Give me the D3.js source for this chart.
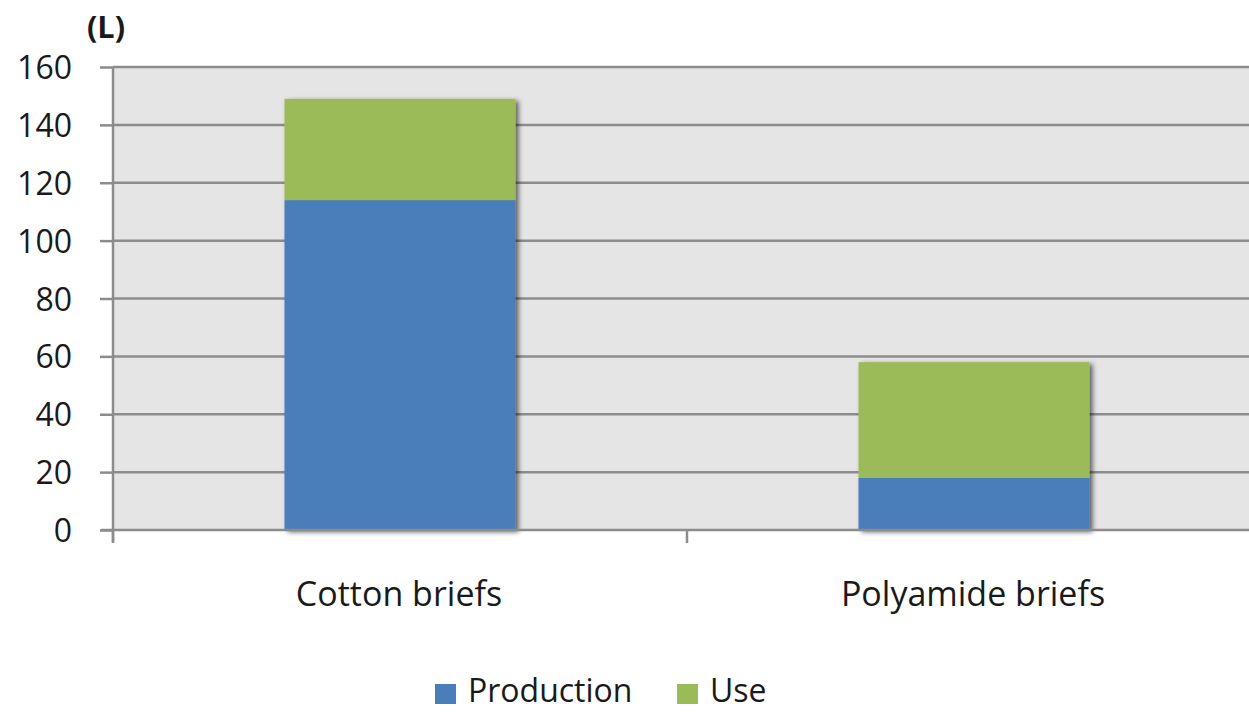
<!DOCTYPE html>
<html>
<head>
<meta charset="utf-8">
<script src="https://cdn.jsdelivr.net/npm/d3@7"></script>
<style>
  html, body { margin: 0; padding: 0; background: #ffffff; }
  svg { display: block; }
  text { font-family: "Open Sans", "Liberation Sans", sans-serif; fill: #1a1a1a; }
</style>
</head>
<body>
<svg id="chart" width="1249" height="712"></svg>
<script>
const categories = ["Cotton briefs", "Polyamide briefs"];
const seriesNames = ["Production", "Use"];
const production = [114, 18];
const use = [35, 40];
const yTicks = [0, 20, 40, 60, 80, 100, 120, 140, 160];
const colors = ["#4a7ebb", "#9bbb59"];
const unitLabel = "(L)";

const svg = d3.select("#chart");

const x = d3.scaleBand().domain(categories).range([113, 1261]).paddingInner(0).paddingOuter(0);
const y = d3.scaleLinear().domain([0, 160]).range([530, 67]);

const defs = svg.append("defs");
const f = defs.append("filter").attr("id", "shadow").attr("x", "-10%").attr("y", "-10%").attr("width", "130%").attr("height", "130%");
f.append("feDropShadow").attr("dx", 3).attr("dy", 2).attr("stdDeviation", 2.5).attr("flood-color", "#000").attr("flood-opacity", 0.6);

// plot background
svg.append("rect").attr("x", 113).attr("y", y(160)).attr("width", 1261 - 113).attr("height", y(0) - y(160)).attr("fill", "#e5e5e5");

// gridlines
svg.append("g").selectAll("line").data(yTicks.filter(d => d > 0)).join("line")
  .attr("x1", 113).attr("x2", 1261)
  .attr("y1", d => y(d)).attr("y2", d => y(d))
  .attr("stroke", "#8c8c8c").attr("stroke-width", 2.5);

// stacked bars
const stackData = categories.map((c, i) => ({ cat: c, Production: production[i], Use: use[i] }));
const stacked = d3.stack().keys(seriesNames)(stackData);
const barW = 231;
const bars = svg.append("g").attr("filter", "url(#shadow)");
stacked.forEach((layer, li) => {
  bars.selectAll(null).data(layer).join("rect")
    .attr("x", d => x(d.data.cat) + x.bandwidth() / 2 - barW / 2)
    .attr("width", barW)
    .attr("y", d => y(d[1]))
    .attr("height", d => y(d[0]) - y(d[1]))
    .attr("fill", colors[li]);
});

// y axis
const yAxis = svg.append("g").attr("transform", "translate(113,0)")
  .call(d3.axisLeft(y).tickValues(yTicks).tickSize(13).tickPadding(28).tickFormat(d3.format("d")));
yAxis.select(".domain").attr("stroke", "#8c8c8c").attr("stroke-width", 2.5).attr("d", `M0,${y(160)}V${y(0) + 12}`);
yAxis.selectAll(".tick line").attr("stroke", "#8c8c8c").attr("stroke-width", 2.5);
yAxis.selectAll(".tick text").attr("font-size", 32).style("font-family", "'Open Sans', sans-serif").attr("fill", "#1a1a1a").attr("dy", "0.36em");

// x axis
svg.append("line").attr("x1", 101).attr("x2", 1261).attr("y1", y(0)).attr("y2", y(0)).attr("stroke", "#8c8c8c").attr("stroke-width", 2.5);
const xTickPos = [x.range()[0], ...categories.slice(1).map(c => x(c)), x.range()[1]];
svg.append("g").selectAll("line").data(xTickPos).join("line")
  .attr("x1", d => d).attr("x2", d => d).attr("y1", y(0)).attr("y2", y(0) + 13)
  .attr("stroke", "#8c8c8c").attr("stroke-width", 2.5);
svg.append("g").selectAll("text").data(categories).join("text")
  .attr("x", d => x(d) + x.bandwidth() / 2 - 1)
  .attr("y", 606).attr("text-anchor", "middle").attr("font-size", 34).text(d => d);

// unit label
svg.append("text").attr("x", 87).attr("y", 38).attr("font-size", 30).attr("font-weight", 700)
  .attr("textLength", 38).attr("lengthAdjust", "spacingAndGlyphs").text(unitLabel);

// legend
const legendX = [435, 677];
const legend = svg.append("g");
seriesNames.forEach((s, i) => {
  legend.append("rect").attr("x", legendX[i]).attr("y", 684).attr("width", 21).attr("height", 20).attr("fill", colors[i]);
  legend.append("text").attr("x", legendX[i] + 33).attr("y", 702).attr("font-size", 32).text(s);
});
</script>
</body>
</html>
